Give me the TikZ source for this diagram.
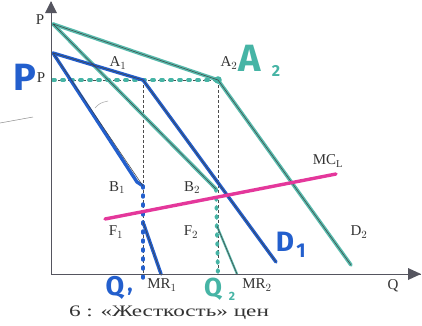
\documentclass[tikz,border=0pt]{standalone}
\usepackage{fontspec}
\setmainfont{Liberation Serif}
\newfontfamily\handfont{Fira Sans}
\usetikzlibrary{arrows.meta}
\definecolor{tealm}{RGB}{70,180,165}
\definecolor{bluem}{RGB}{35,95,205}
\definecolor{magm}{RGB}{228,55,155}
\definecolor{axisc}{RGB}{85,85,95}
\tikzset{
  axisline/.style={draw=axisc, line width=0.9pt},
  tealcurve/.style={draw=tealm, line width=3.6pt, line cap=round, line join=round, opacity=0.9},
  bluecurve/.style={draw=bluem, line width=3.4pt, line cap=round, line join=round},
  printline/.style={draw=black!75, line width=0.5pt},
  guide/.style={draw=black!70, line width=0.6pt, dash pattern=on 3pt off 2pt},
  tealdots/.style={draw=tealm, line width=3.8pt, line cap=round, dash pattern=on 2pt off 7pt},
  bluedots/.style={draw=bluem, line width=3.4pt, line cap=round, dash pattern=on 2pt off 7pt},
  mcline/.style={draw=magm, line width=3.4pt, line cap=round},
  lbl/.style={font=\fontsize{15}{17}\selectfont, text=black!80, inner sep=0pt},
  hand/.style={font=\handfont\bfseries, inner sep=0pt}
}
\begin{document}
\begin{tikzpicture}[x=1pt,y=-1pt]
\useasboundingbox[fill=white] (0,0) rectangle (422,325);
% key points
\coordinate (O) at (51,274);
\coordinate (Ytop) at (51,2);
\coordinate (Xend) at (421,274);
\coordinate (D2s) at (53,24);
\coordinate (A2) at (218,80);
\coordinate (D2e) at (351,265);
\coordinate (D1s) at (53,53);
\coordinate (A1) at (143,80);
\coordinate (D1e) at (276,262);
\coordinate (B2) at (216,189);
\coordinate (F2) at (217,226);
\coordinate (MR2e) at (237,274);
\coordinate (K1) at (137,182);
\coordinate (B1) at (143,186);
\coordinate (F1) at (143,222);
\coordinate (MR1e) at (161,274);
\coordinate (MCs) at (105,219);
\coordinate (MCe) at (336,174);
\coordinate (Pl) at (53,80);
\coordinate (A1b) at (143,274);
\coordinate (A2b) at (218,274);

% pencil strokes
\draw[black!45, line width=0.5pt] (0,123) -- (33,117);
\draw[black!35, line width=0.5pt] (95,108) .. controls (100,103) .. (108,101);

% guides
\draw[guide] (Pl) -- (A2);
\draw[guide] (A1) -- (A1b);
\draw[guide] (A2) -- (A2b);

% teal highlighted: D2 and MR2
\draw[tealcurve] (D2s) -- (A2) -- (D2e);
\draw[tealcurve] (D2s) -- (B2);
\draw[tealcurve, line width=2.2pt] (F2) -- (MR2e);
\draw[tealdots] (Pl) -- (A2);
\draw[tealdots] (B2) -- ([yshift=-3pt]A2b);
\fill[tealm] (A2) circle (3.8pt);

% blue: D1 and MR1
\draw[bluecurve] (D1s) -- (A1) -- (D1e);
\draw[bluecurve] (D1s) -- (K1) -- (B1);
\draw[bluecurve] (F1) -- (MR1e);
\draw[bluedots] (B1) -- ([yshift=-8pt]A1b);

% printed lines on top
\draw[printline] (D2s) -- (A2) -- (D2e);
\draw[printline] (D2s) -- (B2);
\draw[printline] (F2) -- (MR2e);
\draw[printline] (D1s) -- (A1) -- (D1e);
\draw[printline] (D1s) -- (B1);
\draw[printline] (F1) -- (MR1e);

% MC
\draw[mcline] (MCs) -- (MCe);

% axes
\draw[axisline] (O) -- (Ytop);
\draw[axisline] (O) -- (Xend);
\fill[axisc] (51,1) -- (45,13) -- (57,13) -- cycle;
\fill[axisc] (421,274) -- (408,268) -- (408,280) -- cycle;

% printed labels
\node[lbl] (lP) at (40,20) {P};
\node[lbl] (lP2) at (41,78) {P};
\node[lbl] (lA1) at (118,63) {A$_1$};
\node[lbl] (lA2) at (229,63) {A$_2$};
\node[lbl] (lB1) at (117,188) {B$_1$};
\node[lbl] (lB2) at (192,188) {B$_2$};
\node[lbl] (lF1) at (116,232) {F$_1$};
\node[lbl] (lF2) at (191,232) {F$_2$};
\node[lbl] (lMR1) at (162,285) {MR$_1$};
\node[lbl] (lMR2) at (257,285) {MR$_2$};
\node[lbl] (lQ) at (393,286) {Q};
\node[lbl] (lMC) at (328,161) {MC$_\mathrm{L}$};
\node[lbl] (lD2) at (359,232) {D$_2$};
\node[lbl, font=\fontsize{16}{18}\selectfont] (cap) at (169,313) {\scalebox{1.45}[1]{6 : «Жесткость» цен}};

% handwritten labels
\node[hand, text=bluem, font=\handfont\bfseries\fontsize{38}{38}\selectfont] (hP) at (25,77) {P};
\node[hand, text=tealm, font=\handfont\bfseries\fontsize{38}{38}\selectfont] (hA2) at (250,58) {A};
\node[hand, text=tealm, font=\handfont\bfseries\fontsize{16}{16}\selectfont] (hA2s) at (276,71) {2};
\node[hand, text=bluem, font=\handfont\bfseries\fontsize{28}{28}\selectfont] (hD1) at (285,242) {D};
\node[hand, text=bluem, font=\handfont\bfseries\fontsize{20}{20}\selectfont] (hD1s) at (301,251) {1};
\node[hand, text=bluem, font=\handfont\bfseries\fontsize{27}{27}\selectfont] (hQ1) at (115,288) {Q};
\node[hand, text=bluem, font=\handfont\bfseries\fontsize{22}{22}\selectfont] (hQ1s) at (130,292) {,};
\node[hand, text=tealm, font=\handfont\bfseries\fontsize{26}{26}\selectfont] (hQ2) at (213,289) {Q};
\node[hand, text=tealm, font=\handfont\bfseries\fontsize{12}{12}\selectfont] (hQ2s) at (232,296) {2};
\end{tikzpicture}
\end{document}
